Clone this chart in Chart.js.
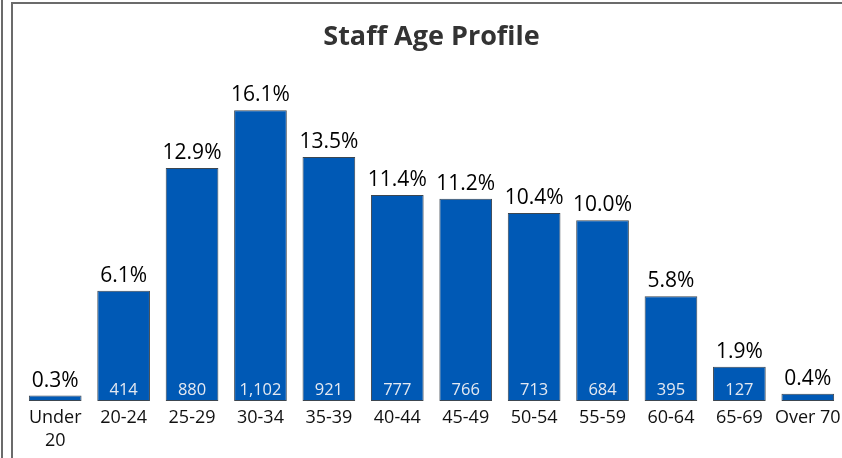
<!DOCTYPE html>
<html>
<head>
<meta charset="utf-8">
<script src="https://cdn.jsdelivr.net/npm/chart.js@4"></script>
<style>
  html, body { margin: 0; padding: 0; background: #fff; }
  #wrap { position: relative; width: 842px; height: 458px; overflow: hidden; }
  #cadre1 { position: absolute; left: 1px; top: 0; width: 2px; height: 458px; background: #6b6b6b; }
  #cadre2 { position: absolute; left: 11px; top: 2px; width: 831px; height: 456px;
            border-left: 2px solid #6b6b6b; border-top: 2px solid #6b6b6b; box-sizing: border-box; }
  canvas { position: absolute; left: 0; top: 0; }
</style>
</head>
<body>
<div id="wrap">
  <canvas id="grafico" width="842" height="458"></canvas>
  <div id="cadre1"></div>
  <div id="cadre2"></div>
</div>
<script>
// Dados do gráfico
const faixas = [['Under', '20'], '20-24', '25-29', '30-34', '35-39', '40-44', '45-49', '50-54', '55-59', '60-64', '65-69', 'Over 70'];
const percentuais = [0.3, 6.1, 12.9, 16.1, 13.5, 11.4, 11.2, 10.4, 10.0, 5.8, 1.9, 0.4];
const contagens = [22, 414, 880, 1102, 921, 777, 766, 713, 684, 395, 127, 28];

const fonte = '"Open Sans", "Noto Sans", sans-serif';

// Rótulos: percentual acima e contagem dentro da barra
const rotulos = {
  id: 'rotulos',
  afterDatasetsDraw(chart) {
    const c = chart.ctx;
    const barras = chart.getDatasetMeta(0).data;
    c.save();
    c.textAlign = 'center';
    barras.forEach((b, i) => {
      c.fillStyle = '#000';
      c.font = '21px ' + fonte;
      c.textBaseline = 'alphabetic';
      c.fillText(percentuais[i].toFixed(1) + '%', b.x, b.y - 9);
      if (b.base - b.y > 22) {
        c.fillStyle = '#e4e9f1';
        c.font = '16.5px ' + fonte;
        c.fillText(contagens[i].toLocaleString('en-US'), b.x, b.base - 6);
      }
    });
    c.restore();
  }
};

new Chart(document.getElementById('grafico').getContext('2d'), {
  type: 'bar',
  data: {
    labels: faixas,
    datasets: [{
      data: percentuais,
      backgroundColor: '#0059b5',
      borderColor: '#3c4650',
      borderWidth: 1,
      borderSkipped: false,
      categoryPercentage: 1,
      barPercentage: 0.77
    }]
  },
  options: {
    responsive: false,
    animation: false,
    layout: { padding: { left: 21, right: 0, top: 0, bottom: 0 } },
    plugins: {
      legend: { display: false },
      tooltip: { enabled: false },
      title: {
        display: true,
        text: 'Staff Age Profile',
        color: '#333',
        font: { family: fonte, size: 27, weight: 'bold' },
        padding: { top: 21, bottom: 22.4 }
      }
    },
    scales: {
      y: { display: false, min: 0, max: 18 },
      x: {
        grid: { display: false, drawTicks: false },
        border: { display: false },
        afterFit(escala) {
          // o rótulo "Over 70" não deve encolher a área do gráfico
          escala.paddingLeft = 0;
          escala.paddingRight = 0;
        },
        ticks: {
          color: '#111',
          font: { family: fonte, size: 18, lineHeight: 1.25 },
          padding: 6,
          maxRotation: 0,
          autoSkip: false
        }
      }
    }
  },
  plugins: [rotulos]
});
</script>
</body>
</html>
